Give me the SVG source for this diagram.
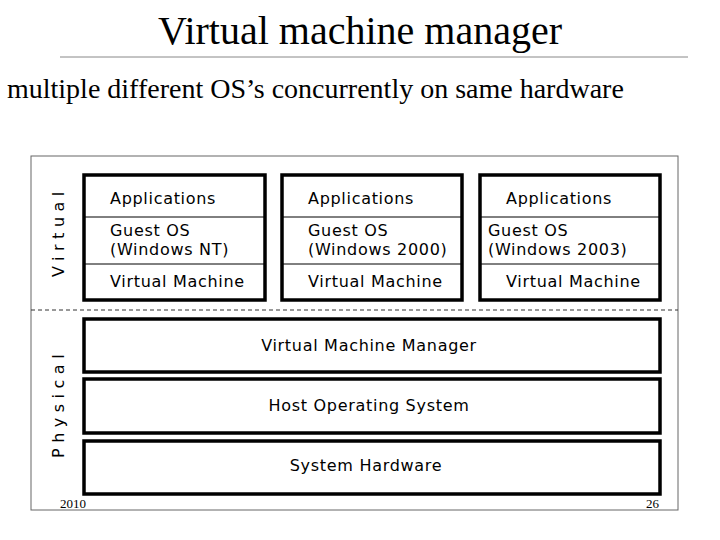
<svg xmlns="http://www.w3.org/2000/svg" width="720" height="540" viewBox="0 0 720 540">
<style>
.t{font-family:"Liberation Serif",serif;fill:#000}
.s{font-family:"DejaVu Sans",sans-serif;font-size:16px;letter-spacing:0.7px;fill:#000}
.box{fill:#fff;stroke:#000;stroke-width:3.5}
.div{stroke:#000;stroke-width:1}
</style>
<rect width="720" height="540" fill="#fff"/>
<text class="t" x="360" y="44" font-size="40" text-anchor="middle">Virtual machine manager</text>
<line x1="60" y1="57" x2="688" y2="57" stroke="#888" stroke-width="1"/>
<text class="t" x="7" y="98" font-size="28">multiple different OS’s concurrently on same hardware</text>
<rect x="31" y="156" width="647" height="354" fill="none" stroke="#666" stroke-width="1"/>
<line x1="31" y1="310" x2="678" y2="310" stroke="#333" stroke-width="1" stroke-dasharray="4,3"/>
<text class="s" transform="translate(64,277) rotate(-90)" style="letter-spacing:5.5px">Virtual</text>
<text class="s" transform="translate(64,458) rotate(-90)" style="letter-spacing:5.5px">Physical</text>
<g id="vm1">
<rect class="box" x="84" y="175" width="181" height="125"/>
<line class="div" x1="84" y1="217" x2="265" y2="217"/>
<line class="div" x1="84" y1="264" x2="265" y2="264"/>
<text class="s" x="110" y="204">Applications</text>
<text class="s" x="110" y="236">Guest OS</text>
<text class="s" x="110" y="255">(Windows NT)</text>
<text class="s" x="110" y="287">Virtual Machine</text>
</g>
<g id="vm2">
<rect class="box" x="282" y="175" width="180" height="125"/>
<line class="div" x1="282" y1="217" x2="462" y2="217"/>
<line class="div" x1="282" y1="264" x2="462" y2="264"/>
<text class="s" x="308" y="204">Applications</text>
<text class="s" x="308" y="236">Guest OS</text>
<text class="s" x="308" y="255">(Windows 2000)</text>
<text class="s" x="308" y="287">Virtual Machine</text>
</g>
<g id="vm3">
<rect class="box" x="480" y="175" width="180" height="125"/>
<line class="div" x1="480" y1="217" x2="660" y2="217"/>
<line class="div" x1="480" y1="264" x2="660" y2="264"/>
<text class="s" x="506" y="204">Applications</text>
<text class="s" x="488" y="236">Guest OS</text>
<text class="s" x="488" y="255">(Windows 2003)</text>
<text class="s" x="506" y="287">Virtual Machine</text>
</g>
<g id="vmm">
<rect class="box" x="84" y="319" width="576" height="53"/>
<text class="s" x="369" y="351" text-anchor="middle">Virtual Machine Manager</text>
</g>
<g id="host">
<rect class="box" x="84" y="379" width="576" height="54"/>
<text class="s" x="369" y="411" text-anchor="middle">Host Operating System</text>
</g>
<g id="hw">
<rect class="box" x="84" y="441" width="576" height="53"/>
<text class="s" x="366" y="471" text-anchor="middle">System Hardware</text>
</g>
<g id="connectors"/>
<text class="t" x="60" y="508" font-size="13">2010</text>
<text class="t" x="659" y="508" font-size="13" text-anchor="end">26</text>
</svg>
